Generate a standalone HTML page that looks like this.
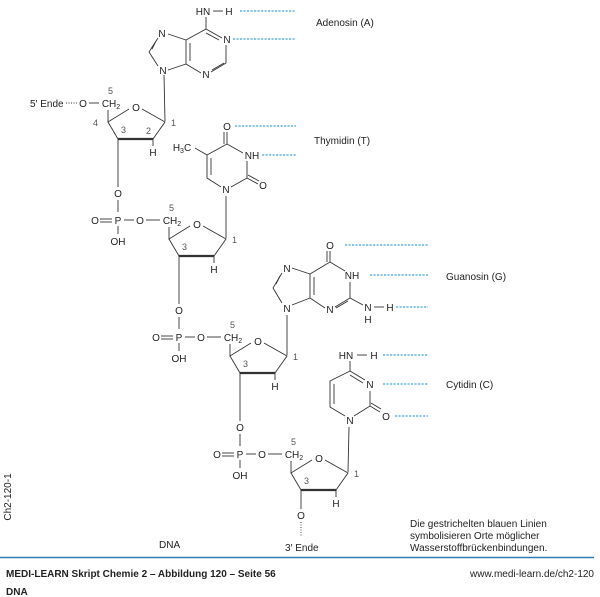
<!DOCTYPE html>
<html><head><meta charset="utf-8"><style>
body{margin:0;background:#fff;}
svg{display:block;font-family:"Liberation Sans",sans-serif;}
text{font-size:10px;fill:#222;}
.n{font-size:9px;fill:#555;}
line,polyline,polygon{stroke:#333;stroke-width:0.9;fill:none;}
.b{stroke-width:2.2;}
.d{stroke:#1a8fd6;stroke-width:1.1;stroke-dasharray:2.2,1.3;}
.k{stroke:#333;stroke-dasharray:1,1.5;}
</style></head><body>
<svg width="600" height="597" viewBox="0 0 600 597">
<!-- Adenine -->
<text x="203" y="15" text-anchor="middle">HN</text><line x1="213" y1="11" x2="223" y2="11"/><text x="229" y="15" text-anchor="middle">H</text>
<line class="d" x1="240" y1="11" x2="296" y2="11"/>
<line x1="206" y1="17" x2="206" y2="29"/>
<polyline points="206,29 222,38"/><line x1="206" y1="33" x2="219" y2="40"/>
<text x="227" y="43" text-anchor="middle">N</text><line class="d" x1="233" y1="39" x2="296" y2="39"/>
<polyline points="226,45 226,63 211,72"/><line x1="224" y1="63" x2="212" y2="70"/>
<text x="206" y="78" text-anchor="middle">N</text>
<polyline points="201,73 186,64 186,40 206,29"/><line x1="190" y1="43" x2="190" y2="61"/>
<text x="162" y="37" text-anchor="middle">N</text><text x="163" y="74" text-anchor="middle">N</text>
<line x1="186" y1="40" x2="168" y2="34"/><line x1="186" y1="64" x2="168" y2="70"/>
<polyline points="158,38 149,52 158,66"/><line x1="156" y1="41" x2="152" y2="49"/>
<!-- Thymine -->
<text x="227" y="130" text-anchor="middle">O</text><line class="d" x1="235" y1="126" x2="296" y2="126"/>
<line x1="227" y1="132" x2="227" y2="144"/><line x1="224" y1="132" x2="224" y2="144"/>
<polyline points="227,144 243,153"/><text x="252" y="159" text-anchor="middle">NH</text>
<line class="d" x1="262" y1="155" x2="296" y2="155"/>
<polyline points="247,161 247,178 231,187"/><line x1="247" y1="178" x2="258" y2="184"/><line x1="248" y1="175" x2="259" y2="181"/>
<text x="263" y="189" text-anchor="middle">O</text>
<text x="226" y="193" text-anchor="middle">N</text>
<polyline points="221,187 207,178 207,155 227,144"/><line x1="211" y1="158" x2="211" y2="175"/>
<line x1="207" y1="155" x2="195" y2="148"/><text x="182" y="151" text-anchor="middle">H<tspan font-size="7" dy="2">3</tspan><tspan dy="-2">C</tspan></text>
<text x="314" y="144">Thymidin (T)</text>
<text x="316" y="26">Adenosin (A)</text>
<!-- Guanine -->
<text x="330" y="249" text-anchor="middle">O</text><line class="d" x1="345" y1="245" x2="428" y2="245"/>
<line x1="330" y1="251" x2="330" y2="262"/><line x1="327" y1="251" x2="327" y2="262"/>
<polyline points="330,262 345,271"/><text x="352" y="279" text-anchor="middle">NH</text><line class="d" x1="370" y1="275" x2="428" y2="275"/>
<polyline points="350,282 350,298 335,307"/><line x1="348" y1="301" x2="336" y2="308"/>
<text x="330" y="313" text-anchor="middle">N</text>
<polyline points="325,308 310,298 310,274 330,262"/><line x1="314" y1="277" x2="314" y2="295"/>
<line x1="350" y1="298" x2="363" y2="305"/><text x="368" y="311" text-anchor="middle">N</text><line x1="374" y1="307" x2="384" y2="307"/><text x="390" y="311" text-anchor="middle">H</text>
<text x="368" y="323" text-anchor="middle">H</text><line class="d" x1="396" y1="307" x2="428" y2="307"/>
<text x="287" y="272" text-anchor="middle">N</text><text x="287" y="312" text-anchor="middle">N</text>
<line x1="310" y1="274" x2="292" y2="268"/><line x1="310" y1="298" x2="292" y2="305"/>
<polyline points="282,273 273,288 282,303"/><line x1="280" y1="276" x2="276" y2="284"/>
<text x="446" y="280">Guanosin (G)</text>
<!-- Cytosine -->
<text x="346" y="359" text-anchor="middle">HN</text><line x1="357" y1="355" x2="367" y2="355"/><text x="374" y="359" text-anchor="middle">H</text>
<line class="d" x1="383" y1="355" x2="428" y2="355"/>
<line x1="350" y1="361" x2="350" y2="371"/>
<polyline points="350,371 365,380"/><line x1="350" y1="375" x2="363" y2="383"/>
<text x="370" y="388" text-anchor="middle">N</text><line class="d" x1="383" y1="384" x2="428" y2="384"/>
<polyline points="370,391 370,406 354,416"/><line x1="370" y1="406" x2="380" y2="412"/><line x1="371" y1="403" x2="381" y2="409"/>
<text x="386" y="420" text-anchor="middle">O</text><line class="d" x1="395" y1="416" x2="428" y2="416"/>
<text x="350" y="424" text-anchor="middle">N</text>
<polyline points="345,416 330,407 330,381 350,371"/><line x1="334" y1="384" x2="334" y2="404"/>
<text x="446" y="388">Cytidin (C)</text>
<!-- C1' to base links -->
<line x1="164" y1="75" x2="165" y2="121"/>
<line x1="226" y1="196" x2="226" y2="238"/>
<line x1="287" y1="315" x2="287" y2="355"/>
<line x1="349" y1="427" x2="348" y2="472"/>
<!-- Sugar 1 -->
<text x="30" y="107">5′ Ende</text><line class="k" x1="66" y1="103" x2="77" y2="103"/>
<text x="83" y="107" text-anchor="middle">O</text><line x1="89" y1="103" x2="99" y2="103"/>
<g id="s1"></g>
<text x="111" y="107" text-anchor="middle">CH<tspan font-size="7" dy="2">2</tspan></text>
<text class="n" x="108" y="94">5</text><text class="n" x="93" y="126">4</text><text class="n" x="146" y="134">2</text>
<!-- sugars generated -->
<g>
<!-- S1 cx=111 cy=103 -->
<polyline points="108,110 108,122 129,109"/><text x="136" y="111" text-anchor="middle">O</text>
<polyline points="142,109 165,122 153,139"/><line class="b" x1="153" y1="139" x2="118" y2="139"/><line x1="118" y1="139" x2="108" y2="122"/>
<line x1="153" y1="139" x2="153" y2="146"/><text x="153" y="156" text-anchor="middle">H</text>
<text class="n" x="121" y="133">3</text><text class="n" x="171" y="126">1</text>
<line x1="118" y1="139" x2="118" y2="187"/>
<!-- P1 118,220 -->
<text x="118" y="197" text-anchor="middle">O</text><line x1="118" y1="200" x2="118" y2="212"/>
<text x="118" y="224" text-anchor="middle">P</text><text x="95" y="224" text-anchor="middle">O</text>
<line x1="100" y1="219" x2="112" y2="219"/><line x1="100" y1="222" x2="112" y2="222"/>
<line x1="124" y1="220" x2="134" y2="220"/><text x="140" y="224" text-anchor="middle">O</text><line x1="146" y1="220" x2="160" y2="220"/>
<line x1="118" y1="226" x2="118" y2="234"/><text x="118" y="245" text-anchor="middle">OH</text>
<!-- S2 172,220 -->
<text x="172" y="224" text-anchor="middle">CH<tspan font-size="7" dy="2">2</tspan></text><text class="n" x="169" y="211">5</text>
<polyline points="169,227 169,239 190,226"/><text x="197" y="228" text-anchor="middle">O</text>
<polyline points="203,226 226,239 214,256"/><line class="b" x1="214" y1="256" x2="179" y2="256"/><line x1="179" y1="256" x2="169" y2="239"/>
<line x1="214" y1="256" x2="214" y2="263"/><text x="214" y="273" text-anchor="middle">H</text>
<text class="n" x="182" y="250">3</text><text class="n" x="232" y="243">1</text>
<line x1="179" y1="256" x2="179" y2="304"/>
<!-- P2 179,337 -->
<text x="179" y="314" text-anchor="middle">O</text><line x1="179" y1="317" x2="179" y2="329"/>
<text x="179" y="341" text-anchor="middle">P</text><text x="156" y="341" text-anchor="middle">O</text>
<line x1="161" y1="336" x2="173" y2="336"/><line x1="161" y1="339" x2="173" y2="339"/>
<line x1="185" y1="337" x2="195" y2="337"/><text x="201" y="341" text-anchor="middle">O</text><line x1="207" y1="337" x2="221" y2="337"/>
<line x1="179" y1="343" x2="179" y2="351"/><text x="179" y="362" text-anchor="middle">OH</text>
<!-- S3 233,337 -->
<text x="233" y="341" text-anchor="middle">CH<tspan font-size="7" dy="2">2</tspan></text><text class="n" x="230" y="328">5</text>
<polyline points="230,344 230,356 251,343"/><text x="258" y="345" text-anchor="middle">O</text>
<polyline points="264,343 287,356 275,373"/><line class="b" x1="275" y1="373" x2="240" y2="373"/><line x1="240" y1="373" x2="230" y2="356"/>
<line x1="275" y1="373" x2="275" y2="380"/><text x="275" y="390" text-anchor="middle">H</text>
<text class="n" x="243" y="367">3</text><text class="n" x="293" y="360">1</text>
<line x1="240" y1="373" x2="240" y2="421"/>
<!-- P3 240,454 -->
<text x="240" y="431" text-anchor="middle">O</text><line x1="240" y1="434" x2="240" y2="446"/>
<text x="240" y="458" text-anchor="middle">P</text><text x="217" y="458" text-anchor="middle">O</text>
<line x1="222" y1="453" x2="234" y2="453"/><line x1="222" y1="456" x2="234" y2="456"/>
<line x1="246" y1="454" x2="256" y2="454"/><text x="262" y="458" text-anchor="middle">O</text><line x1="268" y1="454" x2="282" y2="454"/>
<line x1="240" y1="460" x2="240" y2="468"/><text x="240" y="479" text-anchor="middle">OH</text>
<!-- S4 294,454 -->
<text x="294" y="458" text-anchor="middle">CH<tspan font-size="7" dy="2">2</tspan></text><text class="n" x="291" y="445">5</text>
<polyline points="291,461 291,473 312,460"/><text x="319" y="462" text-anchor="middle">O</text>
<polyline points="325,460 348,473 336,490"/><line class="b" x1="336" y1="490" x2="301" y2="490"/><line x1="301" y1="490" x2="291" y2="473"/>
<line x1="336" y1="490" x2="336" y2="497"/><text x="336" y="507" text-anchor="middle">H</text>
<text class="n" x="304" y="484">3</text><text class="n" x="354" y="477">1</text>
<line x1="301" y1="490" x2="301" y2="509"/>
<text x="301" y="519" text-anchor="middle">O</text>
<line class="k" x1="301" y1="522" x2="301" y2="537"/>
</g>
<text x="285" y="551">3′ Ende</text>
<text x="159" y="548">DNA</text>
<text x="410" y="527">Die gestrichelten blauen Linien</text>
<text x="410" y="539">symbolisieren Orte möglicher</text>
<text x="410" y="551">Wasserstoffbrückenbindungen.</text>
<text x="0" y="0" transform="translate(11,497) rotate(-90)" font-size="8" text-anchor="middle">Ch2-120-1</text>
<line x1="0" y1="557.5" x2="594" y2="557.5" style="stroke:#2a7ab8;stroke-width:1.5"/>
<text x="6" y="577" font-weight="bold" font-size="10.5">MEDI-LEARN Skript Chemie 2 – Abbildung 120 – Seite 56</text>
<text x="594" y="577" text-anchor="end" font-size="8.5">www.medi-learn.de/ch2-120</text>
<text x="6" y="595" font-weight="bold" font-size="10.5">DNA</text>
</svg>
</body></html>
